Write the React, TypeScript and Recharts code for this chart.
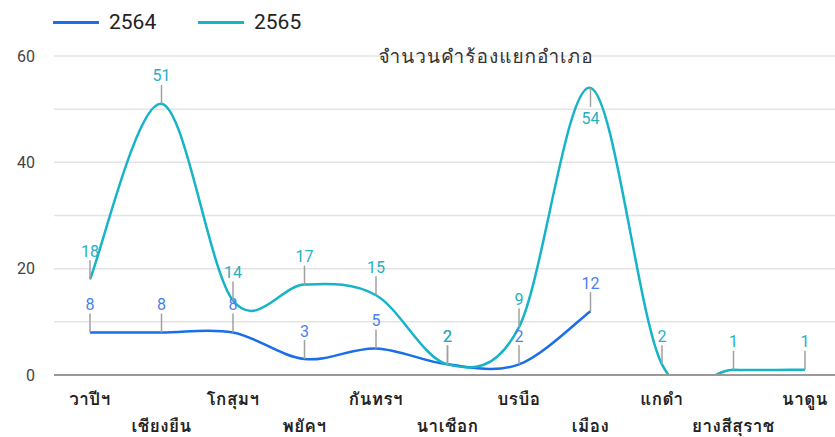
import { LineChart, Line, XAxis, YAxis, CartesianGrid, LabelList } from "recharts";

const categories = [
  "วาปีฯ",
  "เชียงยืน",
  "โกสุมฯ",
  "พยัคฯ",
  "กันทรฯ",
  "นาเชือก",
  "บรบือ",
  "เมือง",
  "แกดำ",
  "ยางสีสุราช",
  "นาดูน"
];
const values2564 = [8, 8, 8, 3, 5, 2, 2, 12, null, null, null];
const values2565 = [18, 51, 14, 17, 15, 2, 9, 54, 2, 1, 1];
const yTicks = [0, 10, 20, 30, 40, 50, 60];
const yLabelTicks = [0, 20, 40, 60];
const title = "จำนวนคำร้องแยกอำเภอ";

const BLUE = "#1a6ee8";
const TEAL = "#16b4c6";
const thaiFont = "Tahoma, Loma, Garuda, 'Noto Sans Thai Looped', 'Noto Sans Thai', sans-serif";
const numFont = "Roboto, 'Noto Sans', Arial, sans-serif";

const data = categories.map((name, i) => ({
  name,
  y2564: values2564[i],
  y2565: values2565[i]
}));

// catmull-rom style smoothing, close to the "function" curve of the original
function smoothCurve(context: any) {
  let pts: [number, number][] = [];
  return {
    areaStart() {},
    areaEnd() {},
    lineStart() {
      pts = [];
    },
    point(x: number, y: number) {
      pts.push([+x, +y]);
    },
    lineEnd() {
      if (!pts.length) return;
      context.moveTo(pts[0][0], pts[0][1]);
      for (let i = 0; i < pts.length - 1; i++) {
        const p0 = pts[i - 1] || pts[i];
        const p1 = pts[i];
        const p2 = pts[i + 1];
        const p3 = pts[i + 2] || pts[i + 1];
        const c1x = p1[0] + (p2[0] - p0[0]) / 6;
        const c1y = p1[1] + (p2[1] - p0[1]) / 6;
        const c2x = p2[0] - (p3[0] - p1[0]) / 6;
        const c2y = p2[1] - (p3[1] - p1[1]) / 6;
        context.bezierCurveTo(c1x, c1y, c2x, c2y, p2[0], p2[1]);
      }
    }
  };
}

const pointLabel = (color: string) => (props: any) => {
  const { x, y, value } = props;
  if (value == null || x == null || y == null) return null;
  const below = value > 52;
  const y1 = below ? y + 19 : y - 19;
  const ty = below ? y + 31 : y - 28;
  return (
    <g>
      <line x1={x} x2={x} y1={y} y2={y1} stroke="#a0a0a0" strokeWidth={1.5} />
      <text
        x={x}
        y={ty}
        textAnchor="middle"
        dominantBaseline="central"
        fill={color}
        fontSize={16}
        fontFamily={numFont}
      >
        {value}
      </text>
    </g>
  );
};

const XTick = (props: any) => {
  const { x, y, payload, index } = props;
  const dy = index % 2 === 0 ? 15 : 42;
  return (
    <text
      x={x}
      y={y + dy}
      textAnchor="middle"
      dominantBaseline="central"
      fill="#222"
      fontSize={17}
      fontWeight={600}
      fontFamily={thaiFont}
      letterSpacing={0.5}
    >
      {payload.value}
    </text>
  );
};

const YTick = (props: any) => {
  const { y, payload } = props;
  if (!yLabelTicks.includes(payload.value)) return null;
  return (
    <text
      x={35}
      y={y}
      textAnchor="end"
      dominantBaseline="central"
      fill="#444"
      fontSize={16}
      fontFamily={numFont}
    >
      {payload.value}
    </text>
  );
};

export default function App() {
  return (
    <div
      style={{
        position: "fixed",
        top: 0,
        left: 0,
        width: 835,
        height: 437,
        overflow: "hidden",
        background: "#fff"
      }}
    >
      <div style={{ position: "absolute", top: 0, left: 0 }}>
        <LineChart
          width={860}
          height={437}
          data={data}
          margin={{ top: 56, right: 19, left: 0, bottom: 0 }}
        >
          <CartesianGrid vertical={false} stroke="#e4e4e4" strokeWidth={1.5} />
          <XAxis
            dataKey="name"
            padding={{ left: 36, right: 36 }}
            height={62}
            axisLine={{ stroke: "#9a9a9a", strokeWidth: 2 }}
            tickLine={false}
            tick={<XTick />}
            interval={0}
          />
          <YAxis
            width={54}
            domain={[0, 60]}
            ticks={yTicks}
            allowDataOverflow
            axisLine={false}
            tickLine={false}
            tick={<YTick />}
          />
          <Line
            dataKey="y2564"
            type={smoothCurve as any}
            stroke={BLUE}
            strokeWidth={2.5}
            dot={false}
            isAnimationActive={false}
          >
            <LabelList dataKey="y2564" content={pointLabel("#4a7ff0")} />
          </Line>
          <Line
            dataKey="y2565"
            type={smoothCurve as any}
            stroke={TEAL}
            strokeWidth={2.5}
            dot={false}
            isAnimationActive={false}
          >
            <LabelList dataKey="y2565" content={pointLabel("#27b0c0")} />
          </Line>
        </LineChart>
      </div>

      <div
        style={{
          position: "absolute",
          top: 42,
          left: 486,
          transform: "translateX(-50%)",
          fontFamily: thaiFont,
          fontSize: 19,
          letterSpacing: 1,
          color: "#333",
          whiteSpace: "nowrap",
          lineHeight: "28px"
        }}
      >
        {title}
      </div>

      <div
        style={{
          position: "absolute",
          top: 7,
          left: 53,
          display: "flex",
          alignItems: "center",
          fontFamily: numFont,
          fontSize: 21,
          color: "#222",
          lineHeight: "30px"
        }}
      >
        <span style={{ display: "inline-block", width: 46, height: 3, background: BLUE }} />
        <span style={{ marginLeft: 10, width: 89 }}>2564</span>
        <span style={{ display: "inline-block", width: 46, height: 3, background: TEAL }} />
        <span style={{ marginLeft: 10 }}>2565</span>
      </div>
    </div>
  );
}
